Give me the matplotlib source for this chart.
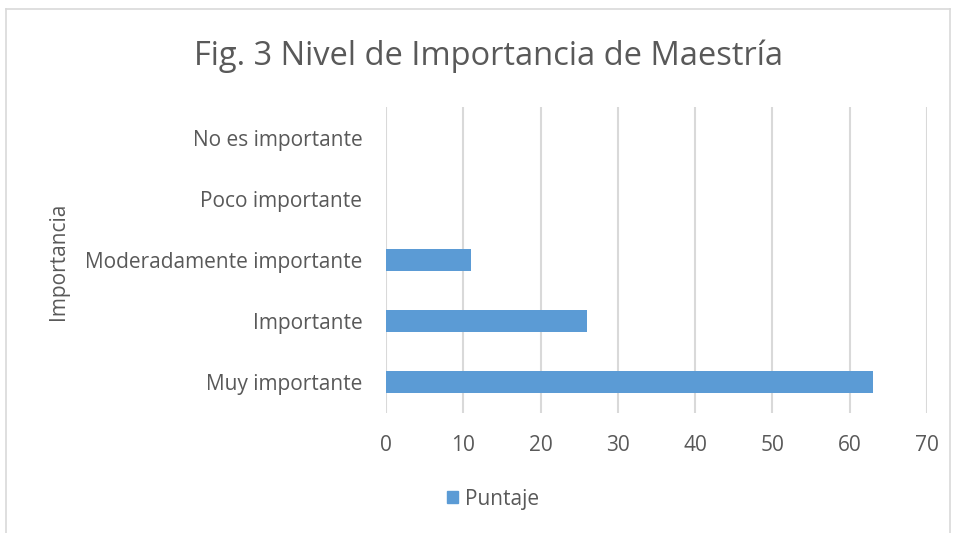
import matplotlib.pyplot as plt
from matplotlib.lines import Line2D
from matplotlib.patches import Patch

# datos
categorias = ["Muy importante", "Importante", "Moderadamente importante",
              "Poco importante", "No es importante"]
puntaje = [63, 26, 11, 0, 0]

plt.rcParams['font.family'] = ['Open Sans', 'DejaVu Sans']

fig = plt.figure(figsize=(9.59, 5.33), dpi=100)
W, H = 959, 533
ax = fig.add_axes([386 / W, 1 - 413 / H, (927 - 386) / W, (413 - 107) / H])

y = range(len(categorias))
ax.barh(y, puntaje, height=0.36, color='#5B9BD5', zorder=3)

ax.set_xlim(0, 70)
ax.set_ylim(-0.5, len(categorias) - 0.5)
ax.set_xticks(range(0, 71, 10))
ax.set_yticks(list(y))
ax.set_yticklabels(categorias)

ax.grid(axis='x', color='#D9D9D9', linewidth=1.5, zorder=0)
for s in ax.spines.values():
    s.set_visible(False)
ax.tick_params(axis='both', length=0, labelsize=15, labelcolor='#595959')
ax.tick_params(axis='y', pad=17)
ax.tick_params(axis='x', pad=16)

ax.set_ylabel("Importancia", fontsize=15, color='#595959')
ax.yaxis.set_label_coords(69 / W, 1 - 261 / H, transform=fig.transFigure)

fig.text(488 / W, 1 - 56 / H, "Fig. 3 Nivel de Importancia de Maestría",
         ha='center', va='center', fontsize=23.5, color='#595959')

leg = fig.legend(handles=[Patch(color='#5B9BD5', label='Puntaje')],
                 loc='center', bbox_to_anchor=(493 / W, 1 - 499 / H),
                 frameon=False, fontsize=15, handlelength=0.55, handleheight=0.55,
                 handletextpad=0.35, labelcolor='#595959')

# marco exterior
for xs, ys in [((6 / W, 6 / W), (1 - 9 / H, 0)),
               ((6 / W, 950 / W), (1 - 9 / H, 1 - 9 / H)),
               ((950 / W, 950 / W), (1 - 9 / H, 0))]:
    fig.add_artist(Line2D(xs, ys, transform=fig.transFigure, color='#D9D9D9', linewidth=1.2))

fig.savefig("out.png", dpi=100)
